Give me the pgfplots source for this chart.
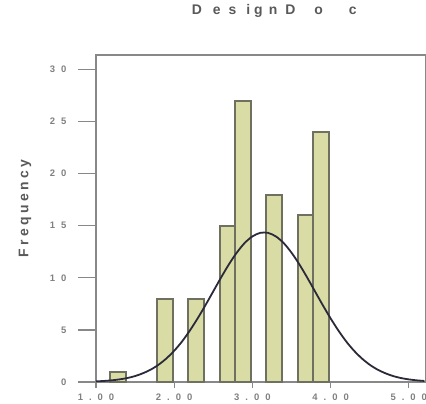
\documentclass[border=0pt]{standalone}
\usepackage{pgfplots}
\pgfplotsset{compat=1.18}
\usepackage{fontspec}
\setmainfont{Liberation Sans}
\definecolor{barfill}{HTML}{D9DCA4}
\definecolor{barline}{HTML}{707060}
\definecolor{axline}{HTML}{888888}
\definecolor{curve}{HTML}{2A2A3A}
\newcommand{\g}{\hspace{6bp}}
\begin{document}
\begin{tikzpicture}[x=1bp,y=1bp]
\useasboundingbox (-96bp,-22bp) rectangle (330bp,382bp);
\begin{axis}[
    scale only axis,
    width=330bp, height=327bp,
    xmin=1, xmax=5.22,
    ymin=0, ymax=31.4,
    axis line style={axline, line width=1.2pt},
    xtick={1,2,3,4,5},
    xticklabels={1\g.\g0\g0,2\g.\g0\g0,3\g.\g0\g0,4\g.\g0\g0,5\g.\g0\g0},
    ytick={0,5,10,15,20,25,30},
    yticklabels={0,5,1\g0,1\g5,2\g0,2\g5,3\g0},
    tick align=outside,
    tick pos=left,
    major tick length=18bp,
    xtick style={axline, line width=1.2pt, dash pattern=on 0bp off 12bp on 6bp off 30bp},
    ytick style={axline, line width=1.2pt},
    yticklabel style={xshift=-8bp},
    xticklabel style={yshift=10bp},
    tick label style={font=\fontsize{9.5}{10}\selectfont\bfseries, text=black!50},
    ylabel={\bfseries F\hspace{3.4bp}r\hspace{3.4bp}e\hspace{3.4bp}q\hspace{3.4bp}u\hspace{3.4bp}e\hspace{3.4bp}n\hspace{3.4bp}c\hspace{3.4bp}y},
    ylabel style={font=\fontsize{14}{16}\selectfont, text=black!65, at={(rel axis cs:0,0.53)}, anchor=center, yshift=71bp},
    title={\bfseries D\hspace{11bp}e\hspace{8bp}s\hspace{10bp}i\hspace{4bp}g\hspace{6bp}n\hspace{8bp}D\hspace{19bp}o\hspace{26bp}c},
    title style={font=\fontsize{14}{16}\selectfont, text=black!65, at={(rel axis cs:0.54,1)}, anchor=center, yshift=38bp},
    clip=false,
]
\addplot[ybar, bar width=0.2, fill=barfill, draw=barline, line width=2pt, bar shift=0pt]
  coordinates {(1.28,1) (1.88,8) (2.28,8) (2.68,15) (2.88,27) (3.28,18) (3.68,16) (3.88,24)};
\addplot[curve, line width=1.8pt, smooth] coordinates {
(1.0,0.06) (1.1,0.10) (1.2,0.16) (1.3,0.25) (1.4,0.38) (1.5,0.57) (1.6,0.84)
(1.7,1.19) (1.8,1.66) (1.9,2.26) (2.0,3.00) (2.1,3.89) (2.2,4.94) (2.3,6.11)
(2.4,7.38) (2.5,8.71) (2.6,10.04) (2.7,11.30) (2.8,12.42) (2.9,13.34) (3.0,13.98)
(3.1,14.32) (3.2,14.32) (3.3,13.98) (3.4,13.34) (3.5,12.42) (3.6,11.30) (3.7,10.04)
(3.8,8.71) (3.9,7.38) (4.0,6.11) (4.1,4.94) (4.2,3.89) (4.3,3.00) (4.4,2.26)
(4.5,1.66) (4.6,1.19) (4.7,0.84) (4.8,0.57) (4.9,0.38) (5.0,0.25) (5.1,0.16) (5.2,0.10)};
\end{axis}
\end{tikzpicture}
\end{document}
